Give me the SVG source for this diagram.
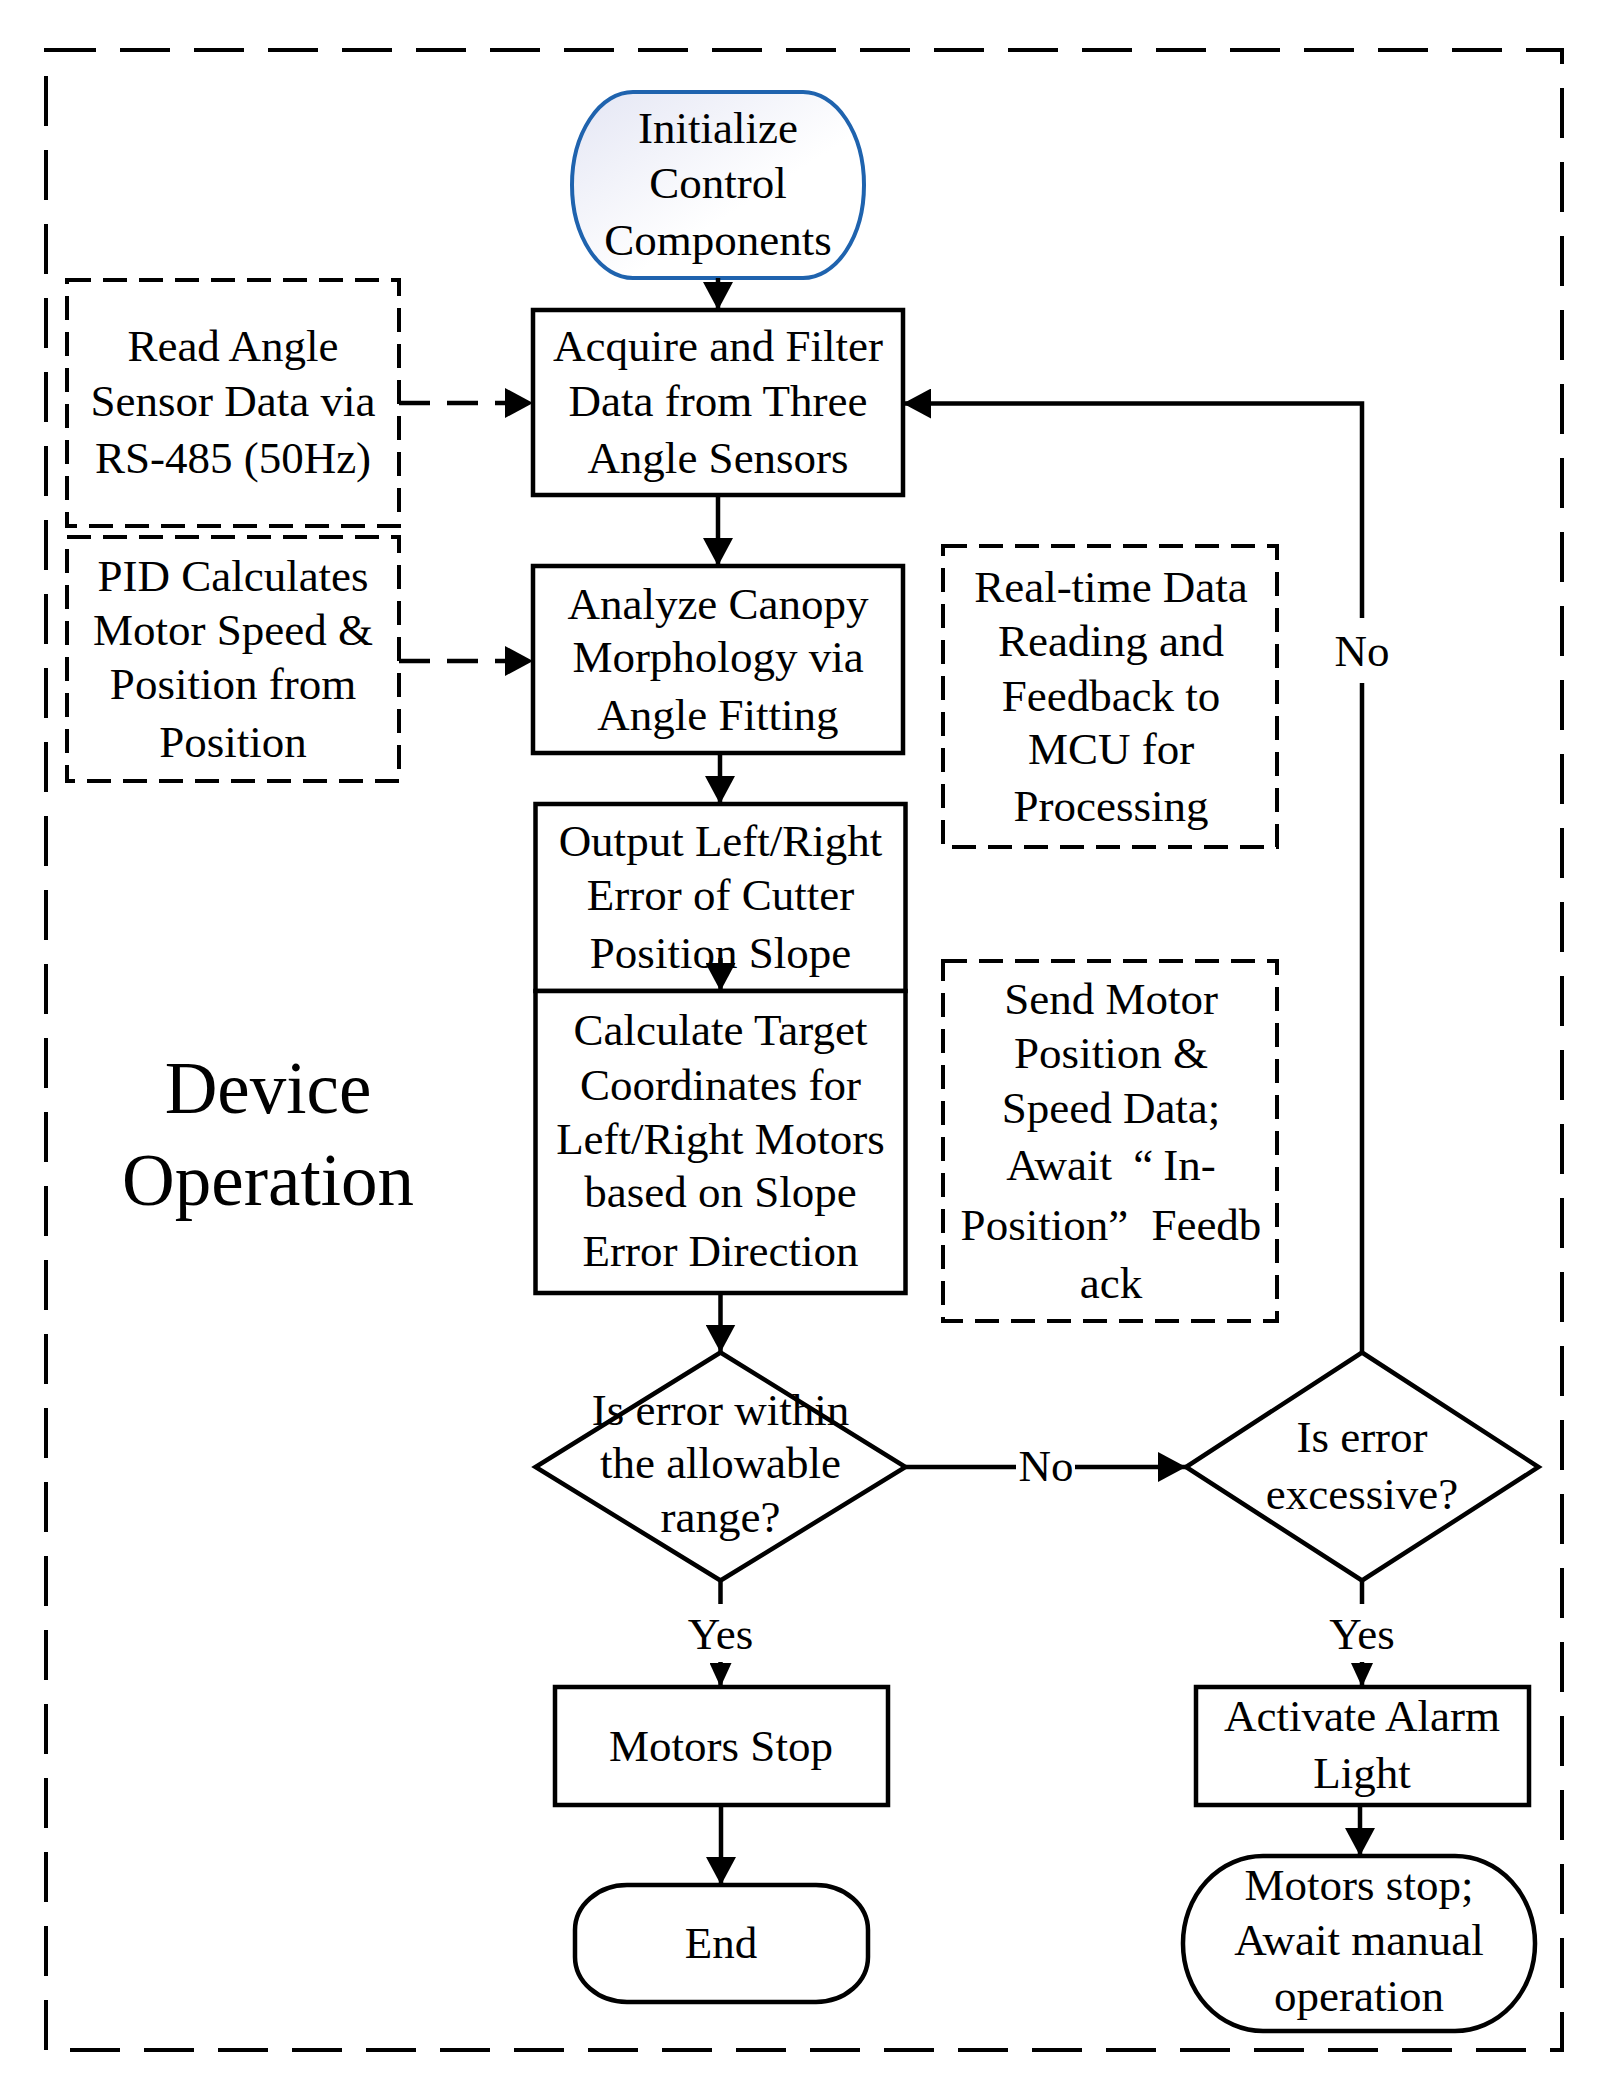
<svg xmlns="http://www.w3.org/2000/svg" width="1615" height="2099" viewBox="0 0 1615 2099">
<style>
.t{font-family:"Liberation Serif","Times New Roman",serif;font-size:45px;fill:#000;text-anchor:middle}
.big{font-size:73px}
.box{fill:#fff;stroke:#000;stroke-width:4.5}
.dbox{fill:none;stroke:#000;stroke-width:4;stroke-dasharray:24 12}
.line{fill:none;stroke:#000;stroke-width:4.5}
.arr{marker-end:url(#ah)}
.sarr{marker-end:url(#ahs)}
.darr{fill:none;stroke:#000;stroke-width:4.5;stroke-dasharray:31 17;marker-end:url(#ah)}
</style>
<defs>
<marker id="ah" markerUnits="userSpaceOnUse" markerWidth="28" markerHeight="30" refX="28" refY="15" orient="auto" viewBox="0 0 28 30">
<path d="M0,0 L28,15 L0,30 Z" fill="#000"/>
</marker>
<marker id="ahs" markerUnits="userSpaceOnUse" markerWidth="24" markerHeight="22" refX="24" refY="11" orient="auto" viewBox="0 0 24 22">
<path d="M0,0 L24,11 L0,22 Z" fill="#000"/>
</marker>
<linearGradient id="sg" x1="0" y1="0" x2="1" y2="1">
<stop offset="0" stop-color="#e4e6f4"/>
<stop offset="0.6" stop-color="#ffffff"/>
</linearGradient>
</defs>
<rect width="1615" height="2099" fill="#fff"/>

<g id="frame">
<rect x="46" y="50" width="1516" height="2000" fill="none" stroke="#000" stroke-width="4" stroke-dasharray="50 24"/>
<text class="t big" x="268" y="1113">Device</text>
<text class="t big" x="268" y="1205">Operation</text>
</g>

<g id="start">
<rect x="572" y="92" width="292" height="186" rx="61" ry="93" fill="url(#sg)" stroke="#1f63ae" stroke-width="4"/>
<text class="t" x="718" y="143">Initialize</text>
<text class="t" x="718" y="198">Control</text>
<text class="t" x="718" y="255">Components</text>
</g>

<g id="read-angle">
<rect class="dbox" x="67" y="280" width="332" height="246"/>
<text class="t" x="233" y="361">Read Angle</text>
<text class="t" x="233" y="416">Sensor Data via</text>
<text class="t" x="233" y="473">RS-485 (50Hz)</text>
</g>

<g id="pid">
<rect class="dbox" x="67" y="537" width="332" height="244"/>
<text class="t" x="233" y="591">PID Calculates</text>
<text class="t" x="233" y="645">Motor Speed &amp;</text>
<text class="t" x="233" y="699">Position from</text>
<text class="t" x="233" y="757">Position</text>
</g>

<g id="acquire">
<rect class="box" x="533" y="310" width="370" height="185"/>
<text class="t" x="718" y="361">Acquire and Filter</text>
<text class="t" x="718" y="416">Data from Three</text>
<text class="t" x="718" y="473">Angle Sensors</text>
</g>

<g id="analyze">
<rect class="box" x="533" y="566" width="370" height="187"/>
<text class="t" x="718" y="619">Analyze Canopy</text>
<text class="t" x="718" y="672">Morphology via</text>
<text class="t" x="718" y="730">Angle Fitting</text>
</g>

<g id="output">
<rect class="box" x="535.5" y="804" width="370" height="187"/>
<text class="t" x="720.5" y="856">Output Left/Right</text>
<text class="t" x="720.5" y="910">Error of Cutter</text>
<text class="t" x="720.5" y="968">Position Slope</text>
</g>

<g id="calculate">
<rect class="box" x="535.5" y="991" width="370" height="302"/>
<text class="t" x="720.5" y="1045">Calculate Target</text>
<text class="t" x="720.5" y="1100">Coordinates for</text>
<text class="t" x="720.5" y="1154">Left/Right Motors</text>
<text class="t" x="720.5" y="1207">based on Slope</text>
<text class="t" x="720.5" y="1266">Error Direction</text>
</g>

<g id="realtime">
<rect class="dbox" x="943" y="546" width="334" height="301"/>
<text class="t" x="1111" y="602">Real-time Data</text>
<text class="t" x="1111" y="656">Reading and</text>
<text class="t" x="1111" y="711">Feedback to</text>
<text class="t" x="1111" y="764">MCU for</text>
<text class="t" x="1111" y="821">Processing</text>
</g>

<g id="send">
<rect class="dbox" x="943" y="961" width="334" height="360"/>
<text class="t" x="1111" y="1014">Send Motor</text>
<text class="t" x="1111" y="1068">Position &amp;</text>
<text class="t" x="1111" y="1123">Speed Data;</text>
<text class="t" x="1111" y="1180">Await <tspan dx="10">“</tspan><tspan dx="10">In-</tspan></text>
<text class="t" x="1111" y="1240">Position”<tspan dx="12"> Feedb</tspan></text>
<text class="t" x="1111" y="1298">ack</text>
</g>

<g id="decision-range">
<polygon class="box" points="720.5,1352.5 905.5,1467 720.5,1580.5 535.5,1467"/>
<text class="t" x="720.5" y="1425">Is error within</text>
<text class="t" x="720.5" y="1478">the allowable</text>
<text class="t" x="720.5" y="1532">range?</text>
</g>

<g id="decision-excessive">
<polygon class="box" points="1362,1352.5 1538.5,1467 1362,1580.5 1186,1467"/>
<text class="t" x="1362" y="1452">Is error</text>
<text class="t" x="1362" y="1509">excessive?</text>
</g>

<g id="motors-stop">
<rect class="box" x="555" y="1687" width="333" height="118"/>
<text class="t" x="721" y="1761">Motors Stop</text>
</g>

<g id="end">
<rect class="box" x="575" y="1885" width="293" height="117" rx="52" ry="45"/>
<text class="t" x="721" y="1958">End</text>
</g>

<g id="alarm">
<rect class="box" x="1196" y="1687" width="333" height="118"/>
<text class="t" x="1362" y="1731">Activate Alarm</text>
<text class="t" x="1362" y="1788">Light</text>
</g>

<g id="await">
<rect class="box" x="1183" y="1856" width="352" height="175" rx="80" ry="87"/>
<text class="t" x="1359" y="1900">Motors stop;</text>
<text class="t" x="1359" y="1955">Await manual</text>
<text class="t" x="1359" y="2011">operation</text>
</g>

<g id="connectors">
<line class="line arr" x1="718" y1="278" x2="718" y2="310"/>
<line class="line arr" x1="718" y1="495" x2="718" y2="566"/>
<line class="line arr" x1="720" y1="753" x2="720" y2="804"/>
<line class="line arr" x1="720.5" y1="958" x2="720.5" y2="991"/>
<line class="line arr" x1="720.5" y1="1293" x2="720.5" y2="1352.5"/>
<line class="darr" x1="399" y1="403" x2="533" y2="403"/>
<line class="darr" x1="399" y1="661" x2="533" y2="661"/>
<line class="line" x1="905.5" y1="1467" x2="1016" y2="1467"/>
<line class="line arr" x1="1075" y1="1467" x2="1186" y2="1467"/>
<text class="t" x="1046" y="1481">No</text>
<polyline class="line" points="1362,1352.5 1362,683"/>
<polyline class="line arr" points="1362,618 1362,403.5 903,403.5"/>
<text class="t" x="1362" y="666">No</text>
<line class="line" x1="720.5" y1="1580.5" x2="720.5" y2="1604"/>
<text class="t" x="720.5" y="1649">Yes</text>
<line class="line sarr" x1="720.5" y1="1662" x2="720.5" y2="1687"/>
<line class="line" x1="1362" y1="1580.5" x2="1362" y2="1604"/>
<text class="t" x="1362" y="1649">Yes</text>
<line class="line sarr" x1="1362" y1="1662" x2="1362" y2="1687"/>
<line class="line arr" x1="721" y1="1805" x2="721" y2="1885"/>
<line class="line arr" x1="1360" y1="1805" x2="1360" y2="1856"/>
</g>
</svg>
